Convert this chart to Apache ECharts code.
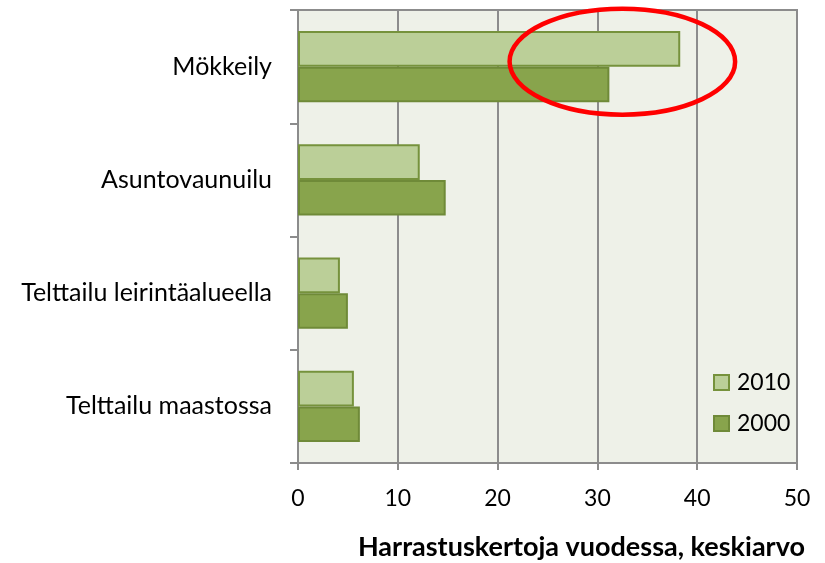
<!DOCTYPE html>
<html>
<head>
<meta charset="utf-8">
<script src="https://cdn.jsdelivr.net/npm/echarts@6/dist/echarts.min.js"></script>
<style>
html,body{margin:0;padding:0;background:#fff;}
#c{width:825px;height:563px;}
</style>
</head>
<body>
<div id="c"></div>
<script>
const categories = ['Mökkeily', 'Asuntovaunuilu', 'Telttailu leirintäalueella', 'Telttailu maastossa'];
const seriesNames = ['2010', '2000'];
const values2010 = [38.3, 12.2, 4.2, 5.6];
const values2000 = [31.2, 14.8, 5.0, 6.2];
const xTicks = [0, 10, 20, 30, 40, 50];
const axisTitle = 'Harrastuskertoja vuodessa, keskiarvo';

const FONT = 'Lato';
const chart = echarts.init(document.getElementById('c'), null, {renderer: 'canvas'});
const option = {
  animation: false,
  backgroundColor: '#ffffff',
  textStyle: {fontFamily: FONT},
  title: {
    text: axisTitle,
    right: 20,
    top: 534,
    padding: 0,
    textStyle: {fontFamily: FONT, fontSize: 27, fontWeight: 'bold', color: '#000'}
  },
  grid: {
    left: 298, right: 28, top: 10, bottom: 100,
    show: true, backgroundColor: '#eef1e8', borderColor: '#8c8c8c', borderWidth: 2
  },
  legend: {
    orient: 'vertical',
    left: 708, top: 366,
    itemWidth: 15, itemHeight: 15, itemGap: 18,
    icon: 'rect',
    data: seriesNames,
    textStyle: {fontFamily: FONT, fontSize: 23, color: '#000', padding: [0,0,0,3]}
  },
  xAxis: {
    type: 'value',
    min: xTicks[0], max: xTicks[xTicks.length - 1], interval: 10,
    axisLine: {show: true, lineStyle: {color: '#8c8c8c', width: 2}},
    axisTick: {show: true, length: 7, lineStyle: {color: '#8c8c8c', width: 2}},
    splitLine: {show: true, lineStyle: {color: '#8c8c8c', width: 2}},
    axisLabel: {fontFamily: FONT, fontSize: 23, color: '#000', margin: 24}
  },
  yAxis: {
    type: 'category',
    data: categories,
    inverse: true,
    axisLine: {show: true, lineStyle: {color: '#8c8c8c', width: 2}},
    axisTick: {show: true, length: 8, lineStyle: {color: '#8c8c8c', width: 2}},
    axisLabel: {fontFamily: FONT, fontSize: 25, color: '#000', margin: 26}
  },
  series: [
    {
      name: seriesNames[0], type: 'bar', data: values2010,
      barGap: '0%', barCategoryGap: '37%',
      itemStyle: {color: '#bbcf98', borderColor: '#76923c', borderWidth: 2}
    },
    {
      name: seriesNames[1], type: 'bar', data: values2000,
      barGap: '0%', barCategoryGap: '37%',
      itemStyle: {color: '#88a44c', borderColor: '#6f8a38', borderWidth: 2}
    }
  ]
};
chart.setOption(option);

// annotation ellipse around the Mökkeily bars, placed via the axes
const c = chart.convertToPixel({gridIndex: 0}, [32.5, categories[0]]);
const e = chart.convertToPixel({gridIndex: 0}, [43.8, categories[0]]);
chart.setOption({
  graphic: [{
    type: 'ellipse',
    shape: {cx: c[0], cy: c[1] - 5, rx: e[0] - c[0], ry: 53},
    style: {fill: 'none', stroke: '#ff0000', lineWidth: 4.5},
    z: 100
  }]
});
</script>
</body>
</html>
